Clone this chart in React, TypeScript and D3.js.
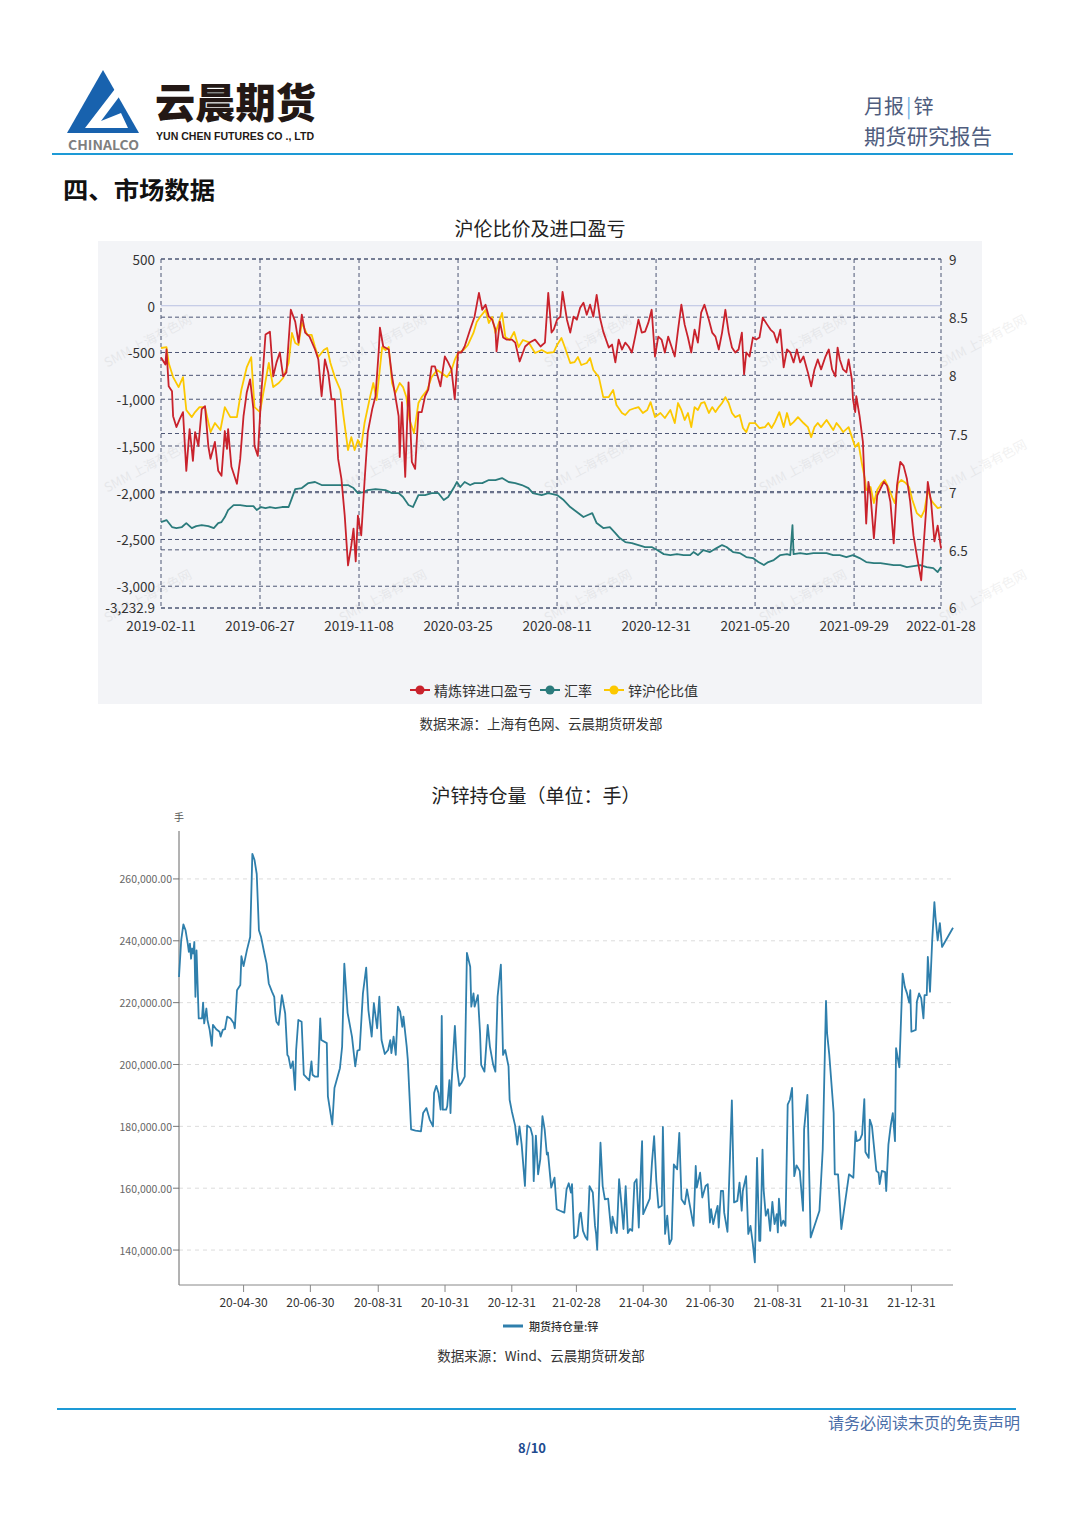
import React from "react";
import * as d3 from "d3";

// ---------------- Chart 1 data: 沪伦比价及进口盈亏 ----------------
const c1TickIdx = [0, 90, 180, 270, 360, 450, 540, 630, 709];
const c1TickLabels = ["2019-02-11", "2019-06-27", "2019-11-08", "2020-03-25", "2020-08-11", "2020-12-31", "2021-05-20", "2021-09-29", "2022-01-28"];
const leftTicks = [500, 0, -500, -1000, -1500, -2000, -2500, -3000, -3232.9];
const rightTicks = [9, 8.5, 8, 7.5, 7, 6.5, 6];
const leftDomain = [-3232.9, 500];
const rightDomain = [6, 9];
const c1Series = ["精炼锌进口盈亏", "汇率", "锌沪伦比值"];

// [trading-day index, value]
const importProfit: [number, number][] = [[0,-553],[4,-628],[5,-468],[7,-862],[10,-915],[11,-1181],[14,-1298],[17,-1213],[20,-1138],[23,-1766],[26,-1319],[28,-1532],[29,-1660],[31,-1351],[34,-1500],[37,-1106],[40,-1074],[43,-1500],[45,-1638],[49,-1457],[52,-1766],[55,-1819],[58,-1340],[60,-1532],[61,-1319],[64,-1723],[69,-1904],[72,-1638],[75,-1181],[78,-925],[81,-787],[84,-1106],[85,-1500],[88,-1606],[91,-968],[95,-308],[99,-277],[102,-755],[105,-606],[108,-500],[111,-755],[114,-713],[118,-43],[122,-170],[125,-394],[128,-96],[131,-287],[135,-330],[140,-468],[143,-574],[146,-968],[149,-574],[152,-713],[155,-1000],[158,-1000],[161,-1638],[164,-1851],[167,-2245],[170,-2777],[173,-2564],[175,-2383],[177,-2734],[179,-2245],[182,-2457],[185,-1883],[188,-1351],[192,-1106],[195,-968],[198,-468],[199,-234],[202,-436],[207,-468],[210,-755],[213,-968],[216,-1181],[217,-1617],[219,-1032],[222,-1830],[225,-819],[228,-1670],[231,-1745],[234,-1138],[237,-1138],[240,-968],[243,-894],[246,-649],[249,-649],[254,-862],[258,-543],[261,-606],[264,-681],[267,-1000],[270,-500],[273,-500],[276,-436],[281,-255],[285,-117],[289,138],[292,-43],[295,11],[298,-117],[301,-149],[304,-255],[305,-489],[308,-170],[311,-340],[314,-362],[319,-362],[322,-394],[326,-596],[331,-436],[335,-394],[340,-362],[345,-436],[349,-394],[352,138],[355,-287],[357,-255],[360,-149],[363,-117],[365,149],[369,-149],[372,-287],[375,-117],[378,-149],[381,-21],[384,32],[387,-96],[390,11],[393,-117],[396,117],[399,-128],[402,-277],[407,-447],[410,-415],[413,-606],[416,-362],[419,-468],[422,-394],[425,-436],[428,-500],[431,-330],[434,-149],[437,-287],[440,-277],[443,-181],[446,-43],[449,-543],[452,-330],[455,-362],[458,-500],[461,-330],[464,-436],[467,-543],[470,-255],[473,11],[476,-202],[479,-340],[482,-500],[485,-255],[488,-394],[491,-74],[494,11],[498,-149],[501,-287],[504,-330],[507,-468],[510,-287],[513,-43],[516,-287],[519,-447],[522,-500],[525,-468],[528,-287],[530,-734],[532,-500],[535,-543],[538,-340],[541,-362],[544,-340],[547,-128],[551,-202],[554,-255],[557,-287],[560,-394],[563,-255],[566,-660],[569,-468],[572,-500],[575,-606],[578,-468],[581,-606],[584,-543],[588,-713],[591,-862],[594,-681],[597,-574],[600,-681],[604,-543],[607,-468],[610,-681],[613,-755],[615,-447],[617,-574],[620,-681],[623,-713],[625,-574],[628,-787],[629,-1000],[631,-1138],[632,-968],[635,-1181],[638,-1457],[641,-2330],[643,-1883],[645,-2032],[648,-2489],[651,-2032],[654,-1957],[657,-1883],[660,-1925],[663,-2096],[666,-2542],[669,-1925],[672,-1670],[675,-1713],[678,-1851],[681,-2096],[684,-2457],[687,-2670],[691,-2936],[693,-2596],[696,-2096],[697,-1883],[700,-2096],[703,-2521],[706,-2351],[709,-2596]];

const exchangeRate: [number, number][] = [[0,6.739],[5,6.756],[10,6.696],[14,6.687],[19,6.696],[23,6.73],[28,6.687],[32,6.704],[37,6.713],[43,6.704],[48,6.687],[52,6.73],[55,6.739],[58,6.782],[61,6.842],[66,6.885],[72,6.885],[78,6.876],[84,6.876],[87,6.842],[91,6.868],[95,6.859],[99,6.868],[104,6.859],[110,6.868],[116,6.868],[119,6.945],[122,7.022],[128,7.031],[134,7.074],[140,7.083],[146,7.057],[152,7.057],[161,7.057],[170,7.057],[175,7.031],[179,6.988],[184,6.997],[188,7.014],[195,7.022],[204,7.014],[210,6.988],[216,6.988],[220,6.954],[225,6.885],[229,6.868],[234,6.971],[240,6.971],[246,6.988],[252,6.988],[257,6.928],[261,6.954],[266,7.031],[269,7.083],[272,7.04],[276,7.083],[281,7.057],[285,7.074],[292,7.074],[298,7.1],[304,7.1],[310,7.117],[316,7.083],[322,7.074],[328,7.057],[334,7.031],[338,6.988],[346,6.971],[352,6.988],[360,6.971],[366,6.928],[372,6.868],[378,6.825],[384,6.782],[388,6.799],[392,6.816],[396,6.73],[402,6.687],[408,6.696],[413,6.644],[417,6.601],[422,6.567],[428,6.558],[434,6.541],[440,6.524],[446,6.524],[451,6.498],[457,6.463],[463,6.455],[469,6.463],[475,6.455],[481,6.455],[484,6.481],[488,6.455],[493,6.498],[499,6.481],[505,6.515],[510,6.541],[514,6.524],[520,6.481],[526,6.472],[532,6.438],[538,6.429],[543,6.395],[548,6.369],[552,6.395],[557,6.412],[563,6.455],[569,6.463],[572,6.455],[574,6.713],[575,6.463],[581,6.472],[587,6.463],[593,6.472],[599,6.472],[605,6.472],[611,6.455],[617,6.455],[623,6.438],[629,6.455],[635,6.429],[641,6.395],[648,6.386],[654,6.386],[660,6.377],[666,6.369],[672,6.369],[678,6.352],[684,6.36],[690,6.369],[696,6.352],[702,6.343],[706,6.309],[709,6.352]];

const lmeRatio: [number, number][] = [[0,8.235],[5,8.243],[7,8.106],[11,7.985],[16,7.899],[20,7.985],[23,7.702],[28,7.641],[31,7.684],[35,7.727],[40,7.727],[45,7.512],[49,7.59],[54,7.53],[58,7.727],[63,7.641],[69,7.641],[73,7.874],[78,8.071],[82,8.157],[85,7.727],[90,7.684],[93,7.848],[98,8.106],[102,7.899],[107,7.934],[111,7.977],[116,8.106],[119,8.364],[122,8.278],[125,8.261],[128,8.45],[133,8.347],[137,8.347],[140,8.243],[143,8.157],[148,8.218],[151,8.235],[154,8.106],[158,7.985],[163,7.874],[166,7.641],[170,7.358],[173,7.469],[176,7.358],[179,7.444],[182,7.384],[185,7.59],[190,7.813],[193,7.934],[196,7.788],[201,8.243],[204,8.218],[207,8.243],[210,7.934],[213,7.848],[217,7.934],[220,7.899],[223,7.813],[226,7.616],[230,7.504],[234,7.762],[237,7.813],[242,7.874],[246,7.985],[251,8.046],[255,8.02],[260,7.985],[264,8.046],[267,8.132],[270,8.192],[275,8.218],[279,8.261],[284,8.364],[287,8.458],[290,8.501],[295,8.561],[298,8.45],[301,8.501],[304,8.364],[307,8.45],[310,8.536],[313,8.329],[317,8.304],[321,8.372],[325,8.243],[329,8.304],[334,8.286],[340,8.192],[346,8.218],[351,8.192],[357,8.2],[360,8.261],[364,8.321],[367,8.243],[372,8.106],[376,8.114],[379,8.157],[382,8.089],[387,8.106],[390,8.149],[393,8.046],[398,7.985],[402,7.813],[407,7.813],[411,7.874],[414,7.745],[419,7.676],[422,7.659],[426,7.702],[431,7.719],[434,7.727],[438,7.676],[442,7.702],[445,7.77],[449,7.641],[454,7.676],[458,7.633],[463,7.702],[467,7.59],[470,7.762],[473,7.702],[476,7.616],[479,7.676],[482,7.555],[485,7.727],[488,7.702],[491,7.762],[494,7.77],[498,7.676],[501,7.727],[504,7.684],[507,7.727],[510,7.762],[513,7.813],[516,7.762],[519,7.676],[522,7.641],[526,7.659],[529,7.547],[532,7.512],[535,7.59],[540,7.59],[544,7.547],[549,7.555],[552,7.59],[555,7.547],[558,7.598],[562,7.684],[566,7.555],[569,7.676],[572,7.573],[575,7.598],[579,7.641],[584,7.59],[588,7.555],[591,7.469],[594,7.555],[597,7.59],[600,7.555],[605,7.616],[608,7.573],[611,7.53],[614,7.59],[617,7.555],[620,7.512],[625,7.555],[628,7.469],[631,7.384],[634,7.418],[637,7.246],[640,7.1],[641,7.014],[645,7.04],[648,6.902],[651,7.014],[655,7.074],[658,7.1],[661,7.04],[665,6.945],[667,6.902],[670,7.074],[673,7.1],[677,7.074],[680,7.04],[683,6.928],[687,6.816],[691,6.782],[694,6.842],[697,7.014],[700,6.928],[702,6.902],[706,6.859],[709,6.868]];

// ---------------- Chart 2 data: 沪锌持仓量 ----------------
const oiStartDate = "2020-03-02";
const oiEndDay = 707;
const oiTickDates = ["2020-04-30", "2020-06-30", "2020-08-31", "2020-10-31", "2020-12-31", "2021-02-28", "2021-04-30", "2021-06-30", "2021-08-31", "2021-10-31", "2021-12-31"];
const oiTickLabels = ["20-04-30", "20-06-30", "20-08-31", "20-10-31", "20-12-31", "21-02-28", "21-04-30", "21-06-30", "21-08-31", "21-10-31", "21-12-31"];
const oiYTicks = [140000, 160000, 180000, 200000, 220000, 240000, 260000];
const oiYDomain = [128700, 275500];
const oiSeriesName = "期货持仓量:锌";

// [days since start date, lots]
const openInterest: [number, number][] = [[0,228300],[2,240100],[4,245300],[6,243400],[8,239100],[9,236400],[10,239100],[11,234200],[12,237500],[13,235900],[14,239600],[15,221900],[16,236900],[18,214900],[21,214900],[22,220000],[23,213300],[25,218100],[26,214400],[28,211200],[30,206000],[31,212800],[34,211400],[37,210600],[38,209000],[40,211200],[42,211400],[44,215500],[47,214900],[50,213300],[51,211700],[53,224000],[56,225700],[57,235000],[59,231800],[62,236900],[65,241200],[67,268100],[69,266100],[71,261600],[73,243400],[75,241200],[78,235900],[80,232600],[82,226200],[85,223500],[87,221900],[88,216500],[89,213800],[91,212800],[94,222400],[97,216500],[99,203100],[100,202600],[102,198800],[104,201000],[106,191800],[107,204700],[109,214400],[112,213800],[114,196700],[117,195600],[119,194900],[121,201000],[122,196700],[124,196100],[127,196100],[129,214900],[130,207900],[135,206900],[136,189700],[140,180600],[142,192400],[147,198800],[149,205800],[151,232600],[154,216700],[158,209000],[161,199400],[163,204500],[165,204700],[168,223000],[171,231300],[173,217600],[176,209000],[178,219800],[181,211700],[183,221900],[185,207900],[188,203400],[191,204700],[193,207900],[194,203700],[196,209000],[198,203100],[200,218700],[202,217100],[204,212200],[205,215500],[208,205800],[209,201500],[212,179000],[216,178600],[221,178400],[223,184300],[226,185900],[229,182200],[232,180000],[233,190800],[235,193100],[237,190800],[239,185400],[240,215700],[241,185400],[244,185400],[245,186500],[247,194900],[248,184300],[249,194000],[252,212500],[254,198800],[256,193100],[258,194000],[261,196100],[263,236100],[266,231600],[267,218700],[269,223000],[270,218700],[273,222400],[275,210100],[276,199900],[279,197700],[282,212800],[284,205800],[287,199900],[289,197700],[291,221900],[294,232300],[296,203100],[298,204700],[301,199400],[302,188600],[304,184900],[307,180300],[309,174100],[311,180000],[313,174100],[316,160700],[318,180300],[321,179500],[323,176800],[324,162300],[326,177000],[328,164500],[330,169300],[332,183300],[334,179000],[336,170900],[337,171500],[340,160200],[343,163400],[345,153200],[348,152700],[352,152100],[354,159600],[356,161600],[358,158600],[359,161300],[361,143800],[364,144600],[366,151600],[367,152100],[369,146200],[371,144400],[373,143300],[375,160700],[378,158600],[380,147800],[381,145200],[382,140100],[385,174700],[387,160700],[389,156400],[392,156600],[395,145500],[396,150800],[398,147800],[400,145500],[402,162900],[404,155400],[406,146800],[408,160700],[410,145500],[412,146800],[414,146200],[416,161800],[418,162900],[420,147300],[422,167200],[423,175200],[424,151600],[430,156600],[432,168200],[434,176800],[436,162300],[438,153700],[441,154300],[442,179800],[444,145200],[446,151100],[448,141900],[450,143500],[452,167700],[455,166100],[457,177900],[459,156400],[462,154800],[464,159600],[467,153700],[470,147800],[472,167200],[473,160200],[476,165000],[478,157000],[481,160700],[483,161300],[485,148900],[486,153200],[488,148400],[490,151600],[492,154300],[493,147300],[495,159100],[497,159100],[498,152100],[501,145900],[502,156400],[505,188400],[507,155400],[510,155900],[512,161800],[514,152700],[515,159100],[518,163900],[520,145200],[522,147800],[524,142500],[526,136000],[528,169800],[530,143000],[531,143000],[533,172500],[534,159600],[536,151100],[538,153200],[540,146200],[542,155600],[544,148400],[546,151600],[547,145700],[548,156600],[550,147800],[552,149500],[554,147800],[556,187000],[558,188600],[560,192400],[562,163900],[564,167400],[567,165600],[570,152700],[571,179000],[574,190200],[577,144100],[582,149500],[585,152700],[588,172500],[591,220600],[592,210100],[594,203100],[598,184300],[599,164500],[602,164500],[605,146800],[612,164500],[616,163400],[618,178400],[619,175200],[622,175700],[624,177400],[626,188800],[627,171700],[630,169800],[631,182200],[633,180000],[637,165600],[639,165000],[640,161300],[642,165600],[645,165200],[646,159100],[648,174100],[650,180000],[652,184300],[654,175200],[655,205300],[658,199100],[661,229400],[663,225100],[665,223000],[667,220000],[668,224000],[669,210600],[673,211200],[674,220300],[676,223000],[678,221400],[680,214900],[681,222400],[683,222400],[684,234800],[686,223500],[688,240100],[690,252500],[691,247700],[693,240100],[695,245700],[697,238000],[707,244200]];

const FONT = '"Noto Sans CJK SC", "Noto Sans", sans-serif';

export default function App() {
  // ---------- chart 1 scales ----------
  const c1 = { left: 161, right: 941, top: 259, bottom: 608 };
  const x1 = d3.scaleLinear().domain([0, 709]).range([c1.left, c1.right]);
  const yL = d3.scaleLinear().domain(leftDomain).range([c1.bottom, c1.top]);
  const yR = d3.scaleLinear().domain(rightDomain).range([c1.bottom, c1.top]);
  const lineL = d3.line<[number, number]>().x((d) => x1(d[0])).y((d) => yL(d[1]));
  const lineR = d3.line<[number, number]>().x((d) => x1(d[0])).y((d) => yR(d[1]));
  const gridColor = "#4d5675";
  const red = "#c9222c";
  const teal = "#2b7b7c";
  const yellow = "#fcc800";

  // ---------- chart 2 scales ----------
  const start = d3.utcParse("%Y-%m-%d")(oiStartDate) as Date;
  const c2 = { left: 179, right: 953, top: 831, bottom: 1285 };
  const x2 = d3.scaleUtc().domain([start, d3.utcDay.offset(start, oiEndDay)]).range([c2.left, c2.right]);
  const y2 = d3.scaleLinear().domain(oiYDomain).range([c2.bottom, c2.top]);
  const line2 = d3
    .line<[number, number]>()
    .x((d) => x2(d3.utcDay.offset(start, d[0])))
    .y((d) => y2(d[1]));
  const fmt2 = d3.format(",.2f");
  const parse = d3.utcParse("%Y-%m-%d");

  const watermarks: [number, number][] = [];
  for (const wy of [345, 470, 600]) for (const wx of [150, 385, 590, 805, 985]) watermarks.push([wx, wy]);

  const legendItems = [
    { name: c1Series[0], color: red, x: 410 },
    { name: c1Series[1], color: teal, x: 540 },
    { name: c1Series[2], color: yellow, x: 604 },
  ];

  return (
    <svg width={1080} height={1526} style={{ position: "absolute", left: 0, top: 0, background: "#fff" }} fontFamily={FONT}>
      <rect x={0} y={0} width={1080} height={1526} fill="#ffffff" />
      {/* ---------- header ---------- */}
      <path d="M103,70 L139,133 L67,133 Z" fill="#1862ae" />
      <path d="M118,85 L125,89 L101,121 L121,113 L128,128 L85,128 Z" fill="#ffffff" />
      <text x={68} y={150} fontSize={13} fontWeight={700} fill="#7f7f7f" textLength={71} lengthAdjust="spacingAndGlyphs">CHINALCO</text>
      <text x={155} y={118} fontSize={41} fontWeight={900} fill="#231815" textLength={161} lengthAdjust="spacingAndGlyphs">云晨期货</text>
      <text x={156} y={140} fontSize={11} fontWeight={700} fill="#231815" fontFamily='"Liberation Sans Narrow", "Liberation Sans", sans-serif' textLength={158} lengthAdjust="spacingAndGlyphs">YUN CHEN FUTURES CO ., LTD</text>
      <text x={864} y={114} fontSize={20} fill="#4f5d7e">
        月报<tspan fill="#6fb3e8" dx={2}>|</tspan><tspan dx={2}>锌</tspan>
      </text>
      <text x={864} y={144} fontSize={21} fill="#4f5d7e" textLength={128} lengthAdjust="spacingAndGlyphs">期货研究报告</text>
      <line x1={52} x2={1013} y1={154} y2={154} stroke="#1d9ad6" strokeWidth={2} />

      <text x={63} y={199} fontSize={24} fontWeight={700} fill="#111" textLength={152} lengthAdjust="spacingAndGlyphs">四、市场数据</text>

      {/* ---------- chart 1 ---------- */}
      <text x={540} y={236} fontSize={19} fill="#222" textAnchor="middle">沪伦比价及进口盈亏</text>
      <rect x={98} y={241} width={884} height={463} fill="#f3f4f7" />
      {watermarks.map(([wx, wy], i) => (
        <text key={"wm" + i} x={wx} y={wy} fontSize={13} fill="#000" opacity={0.05} textAnchor="middle" transform={`rotate(-28 ${wx} ${wy})`}>SMM 上海有色网</text>
      ))}
      {/* horizontal grid */}
      {leftTicks.map((t, i) =>
        t === 0 ? (
          <line key={"lg" + i} x1={c1.left} x2={c1.right} y1={yL(t)} y2={yL(t)} stroke="#b9c0e2" strokeWidth={1} />
        ) : (
          <line key={"lg" + i} x1={c1.left} x2={c1.right} y1={yL(t)} y2={yL(t)} stroke={gridColor} strokeWidth={1} strokeDasharray="4 3" />
        )
      )}
      {rightTicks.map((t, i) => (
        <line key={"rg" + i} x1={c1.left} x2={c1.right} y1={yR(t)} y2={yR(t)} stroke={gridColor} strokeWidth={1} strokeDasharray="4 3" />
      ))}
      {c1TickIdx.map((t, i) => (
        <line key={"vg" + i} x1={x1(t)} x2={x1(t)} y1={c1.top} y2={c1.bottom} stroke={gridColor} strokeWidth={1} strokeDasharray="4 3" />
      ))}
      {/* series */}
      <path d={lineR(exchangeRate) || ""} fill="none" stroke={teal} strokeWidth={1.8} strokeLinejoin="round" />
      <path d={lineR(lmeRatio) || ""} fill="none" stroke={yellow} strokeWidth={1.8} strokeLinejoin="round" />
      <path d={lineL(importProfit) || ""} fill="none" stroke={red} strokeWidth={1.8} strokeLinejoin="round" />
      {/* axes labels */}
      {leftTicks.map((t, i) => (
        <text key={"lt" + i} x={155} y={yL(t) - (i === leftTicks.length - 1 ? 1 : 0)} fontSize={13.5} fill="#333" textAnchor="end" dominantBaseline="central">
          {t.toLocaleString("en-US")}
        </text>
      ))}
      {rightTicks.map((t, i) => (
        <text key={"rt" + i} x={949} y={yR(t) - (i === rightTicks.length - 1 ? 1 : 0)} fontSize={13.5} fill="#333" dominantBaseline="central">
          {String(t)}
        </text>
      ))}
      {c1TickIdx.map((t, i) => (
        <text key={"xt" + i} x={x1(t)} y={624.5} fontSize={13.5} fill="#333" textAnchor="middle" dominantBaseline="central">
          {c1TickLabels[i]}
        </text>
      ))}
      {/* legend */}
      {legendItems.map((it, i) => (
        <g key={"lg1" + i}>
          <line x1={it.x} x2={it.x + 20} y1={690} y2={690} stroke={it.color} strokeWidth={2} />
          <circle cx={it.x + 10} cy={690} r={4.5} fill={it.color} />
          <text x={it.x + 24} y={690} fontSize={14} fill="#333" dominantBaseline="central">{it.name}</text>
        </g>
      ))}
      <text x={541} y={729} fontSize={13.5} fill="#333" textAnchor="middle">数据来源：上海有色网、云晨期货研发部</text>

      {/* ---------- chart 2 ---------- */}
      <text x={536} y={803} fontSize={19} fill="#222" textAnchor="middle">沪锌持仓量（单位：手）</text>
      <text x={179} y={821} fontSize={10} fill="#555" textAnchor="middle">手</text>
      {oiYTicks.map((t, i) => (
        <g key={"y2" + i}>
          <line x1={c2.left} x2={c2.right} y1={y2(t)} y2={y2(t)} stroke="#dcdcdc" strokeWidth={1} strokeDasharray="4 4" />
          <line x1={c2.left - 6} x2={c2.left} y1={y2(t)} y2={y2(t)} stroke="#777" strokeWidth={1} />
          <text x={c2.left - 7} y={y2(t)} fontSize={10.5} fill="#666" textAnchor="end" dominantBaseline="central">{fmt2(t)}</text>
        </g>
      ))}
      <line x1={c2.left} x2={c2.left} y1={c2.top} y2={c2.bottom} stroke="#666" strokeWidth={1} />
      <line x1={c2.left} x2={c2.right} y1={c2.bottom} y2={c2.bottom} stroke="#888" strokeWidth={1} />
      {oiTickDates.map((d, i) => {
        const xx = x2(parse(d) as Date);
        return (
          <g key={"x2" + i}>
            <line x1={xx} x2={xx} y1={c2.bottom} y2={c2.bottom + 7} stroke="#888" strokeWidth={1} />
            <text x={xx} y={1301} fontSize={12} fill="#333" textAnchor="middle" dominantBaseline="central">{oiTickLabels[i]}</text>
          </g>
        );
      })}
      <path d={line2(openInterest) || ""} fill="none" stroke="#2f7fac" strokeWidth={1.8} strokeLinejoin="round" />
      <line x1={503} x2={523} y1={1326} y2={1326} stroke="#2f7fac" strokeWidth={3} />
      <text x={529} y={1326} fontSize={11} fill="#333" fontWeight={500} dominantBaseline="central">{oiSeriesName}</text>
      <text x={541} y={1361} fontSize={13.5} fill="#333" textAnchor="middle">数据来源：Wind、云晨期货研发部</text>

      {/* ---------- footer ---------- */}
      <line x1={57} x2={1016} y1={1409} y2={1409} stroke="#1d9ad6" strokeWidth={2} />
      <text x={1020} y={1429} fontSize={16} fill="#4b6ea8" textAnchor="end">请务必阅读末页的免责声明</text>
      <text x={532} y={1453} fontSize={13} fontWeight={700} fill="#1e4b8f" textAnchor="middle">8/10</text>
    </svg>
  );
}
